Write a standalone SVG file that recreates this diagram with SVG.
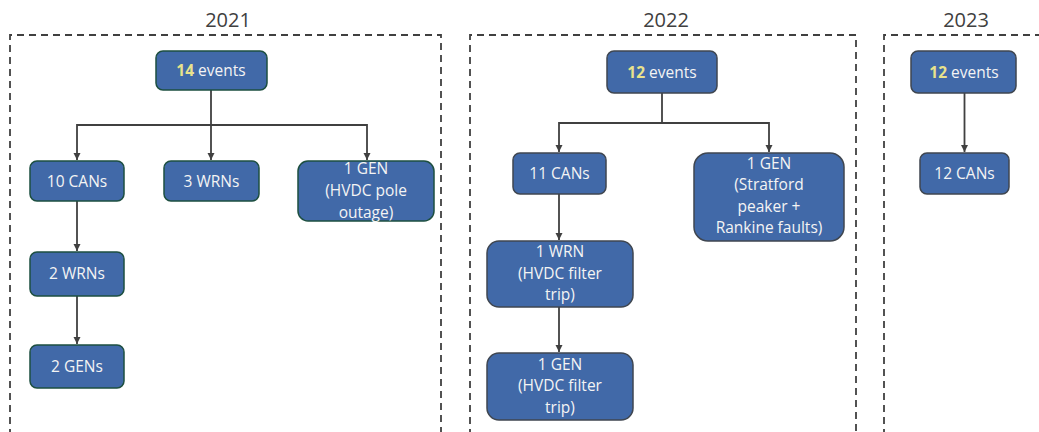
<svg xmlns="http://www.w3.org/2000/svg" width="1039" height="432" viewBox="0 0 1039 432">
<style>
.frame{fill:none;stroke:#404040;stroke-width:1.8;stroke-dasharray:7 5}
.title{font-family:"Open Sans","Liberation Sans",Arial,sans-serif;font-size:20px;fill:#404040;text-anchor:middle}
.n rect{fill:#4169a8;stroke-width:1.5}
.g rect{stroke:#1d4f40}
.k rect{stroke:#3f4650}
.n text{font-family:"Open Sans","Liberation Sans",Arial,sans-serif;font-size:15.5px;fill:#f4f4f4;text-anchor:middle}
.hl{font-weight:bold;fill:#e8e28c}
.c path{fill:none;stroke:#404040;stroke-width:1.8;marker-end:url(#ah)}
.c path.nm{marker-end:none}
</style>
<defs>
<marker id="ah" viewBox="0 0 10 10" refX="10" refY="5" markerWidth="4" markerHeight="4" orient="auto" markerUnits="strokeWidth">
<path d="M0,0 L10,5 L0,10 z" fill="#404040"/>
</marker>
</defs>
<g id="frames">
<text class="title" x="228" y="27">2021</text>
<path class="frame" d="M10,436 V35 H441 V436"/>
<text class="title" x="666" y="27">2022</text>
<path class="frame" d="M470,436 V35 H856 V436"/>
<text class="title" x="966" y="27">2023</text>
<path class="frame" d="M884,436 V35 H1045"/>
</g>
<g class="c" id="connectors">
<path class="nm" d="M211,90 V125"/>
<path d="M211,125 H77 V160"/>
<path d="M211,125 V160"/>
<path d="M211,125 H367 V160"/>
<path d="M77,201 V251"/>
<path d="M77,296 V344"/>
<path class="nm" d="M662,93 V123"/>
<path d="M662,123 H559 V152"/>
<path d="M662,123 H769 V152"/>
<path d="M559,194 V240"/>
<path d="M559,307 V352"/>
<path d="M964.5,93 V152"/>
</g>
<g id="n2021_events" class="n g"><rect x="156" y="51" width="111" height="39" rx="7"/><text x="211" y="76"><tspan class="hl">14</tspan> events</text></g>
<g id="n2021_cans" class="n g"><rect x="30" y="161" width="94" height="40" rx="7"/><text x="77" y="187">10 CANs</text></g>
<g id="n2021_wrns" class="n g"><rect x="164" y="161" width="95" height="40" rx="7"/><text x="211.5" y="187">3 WRNs</text></g>
<g id="n2021_gen" class="n g"><rect x="298" y="161" width="136" height="60" rx="10"/><text x="366" y="174">1 GEN</text><text x="366" y="196">(HVDC pole</text><text x="366" y="218">outage)</text></g>
<g id="n2021_wrns2" class="n g"><rect x="30" y="252" width="94" height="44" rx="7"/><text x="77" y="279">2 WRNs</text></g>
<g id="n2021_gens" class="n g"><rect x="30" y="345" width="94" height="43" rx="7"/><text x="77" y="372">2 GENs</text></g>
<g id="n2022_events" class="n k"><rect x="607" y="51" width="110" height="42" rx="7"/><text x="662" y="78"><tspan class="hl">12</tspan> events</text></g>
<g id="n2022_cans" class="n k"><rect x="513" y="153" width="93" height="41" rx="7"/><text x="559.5" y="179">11 CANs</text></g>
<g id="n2022_gen" class="n k"><rect x="694" y="153" width="150" height="88" rx="14"/><text x="769" y="169">1 GEN</text><text x="769" y="190">(Stratford</text><text x="769" y="212">peaker +</text><text x="769" y="233">Rankine faults)</text></g>
<g id="n2022_wrn" class="n k"><rect x="487" y="241" width="146" height="66" rx="12"/><text x="560" y="257">1 WRN</text><text x="560" y="279">(HVDC filter</text><text x="560" y="300">trip)</text></g>
<g id="n2022_gen2" class="n k"><rect x="487" y="353" width="146" height="67" rx="12"/><text x="560" y="370">1 GEN</text><text x="560" y="391">(HVDC filter</text><text x="560" y="413">trip)</text></g>
<g id="n2023_events" class="n k"><rect x="911" y="51" width="105" height="42" rx="7"/><text x="964" y="78"><tspan class="hl">12</tspan> events</text></g>
<g id="n2023_cans" class="n k"><rect x="920" y="153" width="89" height="41" rx="7"/><text x="964.5" y="179">12 CANs</text></g>
</svg>
